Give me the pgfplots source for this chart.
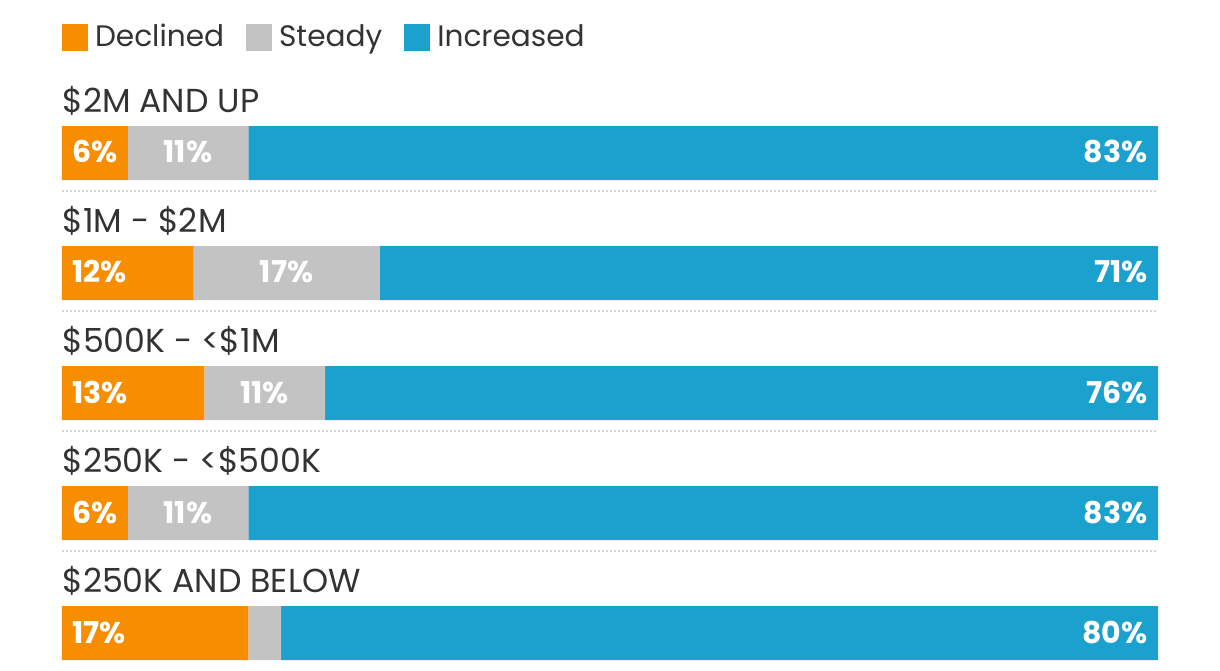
\documentclass[border=0pt]{standalone}
\usepackage{fontspec}
\setmainfont{Poppins}
\usepackage{pgfplots}
\pgfplotsset{compat=1.18}
\definecolor{cdec}{HTML}{F78D00}
\definecolor{cste}{HTML}{C3C3C3}
\definecolor{cinc}{HTML}{1BA1CE}
\definecolor{ctxt}{HTML}{333333}
\definecolor{cdot}{HTML}{D6D6D6}
\begin{document}
\begin{tikzpicture}
\useasboundingbox (0,0) rectangle (610pt,335pt);
\begin{axis}[
  at={(31pt,0pt)}, anchor=south west,
  scale only axis, width=548pt, height=335pt,
  xmin=0, xmax=100, ymin=0, ymax=670, y dir=reverse,
  hide axis, clip=false,
  xbar stacked, bar width=27pt,
  legend columns=3,
  legend style={at={(axis cs:0,37)}, anchor=west, draw=none, fill=none, inner sep=0pt, outer sep=0pt,
    font=\fontsize{14.8pt}{18pt}\selectfont\color{ctxt},
    /tikz/every even column/.append style={column sep=9pt}},
  legend cell align=left,
  legend image code/.code={\fill[#1] (0pt,-6.75pt) rectangle (13pt,6.75pt); \path (14.5pt,0pt);},
]
\addplot[fill=cdec, draw=none] coordinates {(6,153) (12,273) (13,393) (6,513) (17,633)};
\addplot[fill=cste, draw=none] coordinates {(11,153) (17,273) (11,393) (11,513) (3,633)};
\addplot[fill=cinc, draw=none] coordinates {(83,153) (71,273) (76,393) (83,513) (80,633)};
\legend{Declined, Steady, Increased}

% separators
\pgfplotsinvokeforeach{191,311,431,551}{
  \draw[cdot, line width=1pt, dash pattern=on 1pt off 1pt] (axis cs:0,#1) -- (axis cs:100,#1);
}

% category labels
\tikzset{cat/.style={anchor=base west, inner sep=0pt, text=ctxt, font=\fontsize{16.6pt}{20pt}\selectfont}}
\node[cat] at (axis cs:0,112) {\$2M AND UP};
\node[cat] at (axis cs:0,232) {\$1M - \$2M};
\node[cat] at (axis cs:0,352) {\$500K - <\$1M};
\node[cat] at (axis cs:0,472) {\$250K - <\$500K};
\node[cat] at (axis cs:0,592) {\$250K AND BELOW};

% anchor points for value labels
\coordinate (d1) at (axis cs:0,163);
\coordinate (d2) at (axis cs:0,283);
\coordinate (d3) at (axis cs:0,403);
\coordinate (d4) at (axis cs:0,523);
\coordinate (d5) at (axis cs:0,643);
\coordinate (s1) at (axis cs:11.5,163);
\coordinate (s2) at (axis cs:20.5,283);
\coordinate (s3) at (axis cs:18.5,403);
\coordinate (s4) at (axis cs:11.5,523);
\coordinate (i1) at (axis cs:100,163);
\coordinate (i2) at (axis cs:100,283);
\coordinate (i3) at (axis cs:100,403);
\coordinate (i4) at (axis cs:100,523);
\coordinate (i5) at (axis cs:100,643);
\end{axis}
\tikzset{vl/.style={inner sep=0pt, text=white, font=\fontsize{15pt}{17pt}\selectfont\bfseries}}
\node[vl, anchor=base west, xshift=5pt] at (d1) {6\%};
\node[vl, anchor=base west, xshift=5pt] at (d2) {12\%};
\node[vl, anchor=base west, xshift=5pt] at (d3) {13\%};
\node[vl, anchor=base west, xshift=5pt] at (d4) {6\%};
\node[vl, anchor=base west, xshift=5pt] at (d5) {17\%};
\node[vl, anchor=base] at (s1) {11\%};
\node[vl, anchor=base] at (s2) {17\%};
\node[vl, anchor=base] at (s3) {11\%};
\node[vl, anchor=base] at (s4) {11\%};
\node[vl, anchor=base east, xshift=-5pt] at (i1) {83\%};
\node[vl, anchor=base east, xshift=-5pt] at (i2) {71\%};
\node[vl, anchor=base east, xshift=-5pt] at (i3) {76\%};
\node[vl, anchor=base east, xshift=-5pt] at (i4) {83\%};
\node[vl, anchor=base east, xshift=-5pt] at (i5) {80\%};
\end{tikzpicture}
\end{document}
